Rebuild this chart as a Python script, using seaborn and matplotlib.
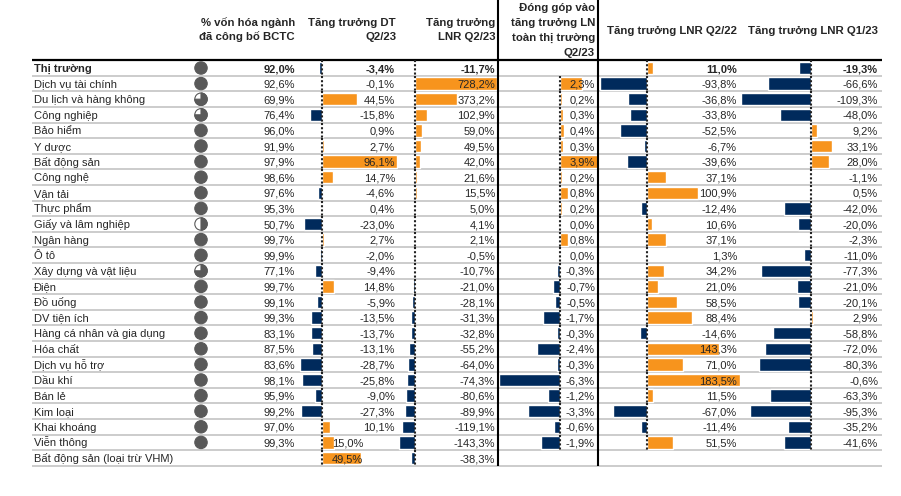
import numpy as np
import pandas as pd
import matplotlib
matplotlib.use("Agg")
import matplotlib.pyplot as plt
from matplotlib.patches import Circle, Wedge
import seaborn as sns

# ── Data ──
sectors = [
    "Thị trường", "Dịch vụ tài chính", "Du lịch và hàng không", "Công nghiệp",
    "Bảo hiểm", "Y dược", "Bất động sản", "Công nghệ", "Vận tải", "Thực phẩm",
    "Giấy và lâm nghiệp", "Ngân hàng", "Ô tô", "Xây dựng và vật liệu", "Điện",
    "Đồ uống", "DV tiện ích", "Hàng cá nhân và gia dụng", "Hóa chất",
    "Dịch vụ hỗ trợ", "Dầu khí", "Bán lẻ", "Kim loại", "Khai khoáng",
    "Viễn thông", "Bất động sản (loại trừ VHM)",
]
nan = np.nan
cap_reported = [92.0, 92.6, 69.9, 76.4, 96.0, 91.9, 97.9, 98.6, 97.6, 95.3, 50.7, 99.7, 99.9,
                77.1, 99.7, 99.1, 99.3, 83.1, 87.5, 83.6, 98.1, 95.9, 99.2, 97.0, 99.3, nan]
rev_growth = [-3.4, -0.1, 44.5, -15.8, 0.9, 2.7, 96.1, 14.7, -4.6, 0.4, -23.0, 2.7, -2.0,
              -9.4, 14.8, -5.9, -13.5, -13.7, -13.1, -28.7, -25.8, -9.0, -27.3, 10.1, 15.0, 49.5]
np_growth_q223 = [-11.7, 728.2, 373.2, 102.9, 59.0, 49.5, 42.0, 21.6, 15.5, 5.0, 4.1, 2.1, -0.5,
                  -10.7, -21.0, -28.1, -31.3, -32.8, -55.2, -64.0, -74.3, -80.6, -89.9, -119.1,
                  -143.3, -38.3]
contribution = [nan, 2.3, 0.2, 0.3, 0.4, 0.3, 3.9, 0.2, 0.8, 0.2, 0.0, 0.8, 0.0,
                -0.3, -0.7, -0.5, -1.7, -0.3, -2.4, -0.3, -6.3, -1.2, -3.3, -0.6, -1.9, nan]
np_growth_q222 = [11.0, -93.8, -36.8, -33.8, -52.5, -6.7, -39.6, 37.1, 100.9, -12.4, 10.6, 37.1, 1.3,
                  34.2, 21.0, 58.5, 88.4, -14.6, 143.3, 71.0, 183.5, 11.5, -67.0, -11.4, 51.5, nan]
np_growth_q123 = [-19.3, -66.6, -109.3, -48.0, 9.2, 33.1, 28.0, -1.1, 0.5, -42.0, -20.0, -2.3, -11.0,
                  -77.3, -21.0, -20.1, 2.9, -58.8, -72.0, -80.3, -0.6, -63.3, -95.3, -35.2, -41.6, nan]

headers = [
    "% vốn hóa ngành\nđã công bố BCTC",
    "Tăng trưởng DT\nQ2/23",
    "Tăng trưởng\nLNR Q2/23",
    "Đóng góp vào\ntăng trưởng LN\ntoàn thị trường\nQ2/23",
    "Tăng trưởng LNR Q2/22",
    "Tăng trưởng LNR Q1/23",
]

# ── Layout (pixel units) ──
W, H = 901, 496
N = len(sectors)
ROW0, ROW_H = 68.0, 15.6
TOP = ROW0 - ROW_H / 2
BOTTOM = ROW0 + ROW_H * (N - 0.5)
LEFT, RIGHT = 32, 882
LINE_H = 14.8

ORANGE = "#F7941D"
NAVY = "#002A5C"
GRID = "#BFBFBF"
BALL = "#595959"

sns.set_theme(style="white")
plt.rcParams["font.family"] = ["Liberation Sans", "DejaVu Sans"]


def row_y(i):
    return ROW0 + ROW_H * i


def fmt(v):
    return f"{v:.1f}%".replace(".", ",")


fig = plt.figure(figsize=(W / 100, H / 100), dpi=100)

# background: row separators
bg = fig.add_axes([0, 0, 1, 1])
bg.set_xlim(0, W)
bg.set_ylim(H, 0)
bg.axis("off")
bounds = [TOP + ROW_H * k for k in range(1, N + 1)]
bg.hlines(bounds, LEFT, RIGHT, color=GRID, lw=1.1)
bg.hlines(TOP, LEFT, RIGHT, color="black", lw=1.6)

# ── Data bars: (values, zero px, px per %, left px, right px) ──
bar_cols = [
    (rev_growth, 322, 0.78, 298, 398),
    (np_growth_q223, 415, 0.1128, 398, 498),
    (contribution, 560, 9.75, 498, 598),
    (np_growth_q222, 647, 0.505, 598, 740),
    (np_growth_q123, 811, 0.645, 740, 880),
]
for vals, zero, scale, x0, x1 in bar_cols:
    vals = np.array(vals, dtype=float)
    axb = fig.add_axes([x0 / W, 1 - BOTTOM / H, (x1 - x0) / W, (BOTTOM - TOP) / H])
    df = pd.DataFrame({
        "sector": sectors,
        "value": np.nan_to_num(vals),
        "sign": np.where(vals < 0, "neg", "pos"),
    })
    sns.barplot(data=df, x="value", y="sector", hue="sign", order=sectors,
                palette={"pos": ORANGE, "neg": NAVY}, orient="h", dodge=False,
                width=0.8, saturation=1, errorbar=None, legend=False, ax=axb)
    # data-bar axis, only in cells that hold a value
    rows = np.flatnonzero(~np.isnan(vals))
    axb.vlines(np.zeros(len(rows)), rows - 0.5, rows + 0.5, color="#222222",
               lw=1.5, ls=(0, (1, 1)))
    axb.set_xlim((x0 - zero) / scale, (x1 - zero) / scale)
    axb.set_ylim(N - 0.5, -0.5)
    axb.axis("off")

# ── Foreground: text, column rules, Harvey balls ──
fg = fig.add_axes([0, 0, 1, 1])
fg.set_xlim(0, W)
fg.set_ylim(H, 0)
fg.axis("off")

fg.vlines([498, 598], 0, BOTTOM, color="black", lw=1.5)

# headers: right edge, baseline of last line
header_pos = [(295, 40.5), (396, 40.5), (495, 40.5), (595, 55.5), (737, 34), (878, 34)]
for text, (xr, yb) in zip(headers, header_pos):
    lines = text.split("\n")
    for k, line in enumerate(lines):
        fg.text(xr, yb - (len(lines) - 1 - k) * LINE_H, line, ha="right", va="baseline",
                fontsize=8.2, fontweight="bold")

value_cols = [
    (cap_reported, 295),
    (rev_growth, 395),
    (np_growth_q223, 495),
    (contribution, 595),
    (np_growth_q222, 737),
    (np_growth_q123, 878),
]
dt_text_right = {24: 363, 25: 363}  # cells whose text sits left in the source sheet

for i, name in enumerate(sectors):
    yb = row_y(i) + 4
    weight = "bold" if i == 0 else "normal"
    fg.text(34, yb, name, ha="left", va="baseline", fontsize=8, fontweight=weight)
    for c, (vals, xr) in enumerate(value_cols):
        v = vals[i]
        if np.isnan(v):
            continue
        if c == 1:
            xr = dt_text_right.get(i, xr)
        fg.text(xr, yb, fmt(v), ha="right", va="baseline", fontsize=8, fontweight=weight)

    # Harvey ball for share of reported market cap
    v = cap_reported[i]
    if np.isnan(v):
        continue
    frac = 1.0 if v >= 80 else 0.75 if v >= 60 else 0.5 if v >= 40 else 0.25
    cx, cy, r = 201, row_y(i), 6.2
    if frac >= 1:
        fg.add_patch(Circle((cx, cy), r, facecolor=BALL, edgecolor=BALL, lw=0.8))
    else:
        fg.add_patch(Circle((cx, cy), r, facecolor="white", edgecolor=BALL, lw=0.8))
        fg.add_patch(Wedge((cx, cy), r, -90, -90 + 360 * frac, facecolor=BALL,
                           edgecolor=BALL, lw=0.8))

fig.savefig("out.png", dpi=100)
